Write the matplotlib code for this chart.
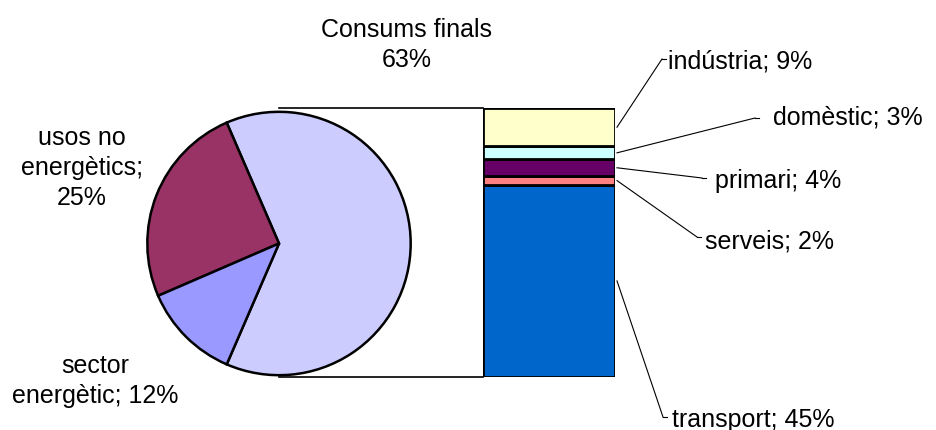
import matplotlib
matplotlib.use("Agg")
import matplotlib.pyplot as plt
from matplotlib.lines import Line2D

plt.rcParams['font.family'] = ['Liberation Sans', 'DejaVu Sans']

# pastís principal
pie_labels = ["Consums finals\n63%", "usos no\nenergètics;\n25%", "sector\nenergètic; 12%"]
pie_values = [63, 25, 12]
pie_colors = ["#CCCCFF", "#993366", "#9999FF"]

# desglossament dels consums finals (de baix a dalt)
bar_labels = ["transport; 45%", "serveis; 2%", "primari; 4%", "domèstic; 3%", "indústria; 9%"]
bar_values = [45, 2, 4, 3, 9]
bar_colors = ["#0066CC", "#FF8080", "#660066", "#CCFFFF", "#FFFFCC"]

W, H = 937, 431
fig = plt.figure(figsize=(W / 100, H / 100), dpi=100)

def fx(px):
    return px / W

def fy(py):
    return 1 - py / H

# pastís: centre (279, 244), radi 133 px
cx, cy, r = 279, 244.5, 133
ax_pie = fig.add_axes([fx(cx - r), fy(cy + r), 2 * r / W, 2 * r / H])
start = -pie_values[0] / 100 * 180
ax_pie.pie(pie_values, colors=pie_colors, startangle=start, counterclock=True,
           wedgeprops=dict(edgecolor="black", linewidth=1.8))
ax_pie.set_xlim(-1.01, 1.01)
ax_pie.set_ylim(-1.01, 1.01)
ax_pie.set_aspect("auto")
ax_pie.axis("off")

# barra apilada
bx0, bx1, by0, by1 = 483, 615, 109, 378
ax_bar = fig.add_axes([fx(bx0), fy(by1), (bx1 - bx0) / W, (by1 - by0) / H])
bottom = 0
for v, c in zip(bar_values, bar_colors):
    ax_bar.bar(0, v, bottom=bottom, width=1, color=c, edgecolor="black", linewidth=2)
    bottom += v
ax_bar.set_xlim(-0.5, 0.5)
ax_bar.set_ylim(0, sum(bar_values))
ax_bar.axis("off")

# línies de connexió
for yy in (by0, by1):
    fig.add_artist(Line2D([fx(cx), fx(bx0)], [fy(yy), fy(yy)], color="black", lw=1.2))

fs = 18
fig.text(fx(407), fy(45), pie_labels[0], ha="center", va="center", fontsize=fs, linespacing=1.3)
fig.text(fx(82), fy(168), pie_labels[1], ha="center", va="center", fontsize=fs, linespacing=1.3)
fig.text(fx(95), fy(381), pie_labels[2], ha="center", va="center", fontsize=fs, linespacing=1.3)

# etiquetes de la barra amb línies guia
text_pos = [(672, 420), (705, 241), (715, 181), (773, 117), (668, 61)]
line_end = [(663, 418), (697, 238), (702, 179), (755, 119), (662, 60)]
bottom = 0
for lab, v, (tx, ty), (lx, ly) in zip(bar_labels, bar_values, text_pos, line_end):
    mid = bottom + v / 2
    bottom += v
    # punt d'inici a la vora dreta de la barra
    p = ax_bar.transData.transform((0.5, mid))
    sx, sy = fig.transFigure.inverted().transform(p)
    fig.add_artist(Line2D([sx + 2 / W, fx(lx)], [sy, fy(ly)], color="black", lw=0.8))
    fig.add_artist(Line2D([fx(lx), fx(lx + 4)], [fy(ly), fy(ly)], color="black", lw=0.8))
    fig.text(fx(tx), fy(ty), lab, ha="left", va="center", fontsize=fs)

fig.savefig("out.png", dpi=100)
